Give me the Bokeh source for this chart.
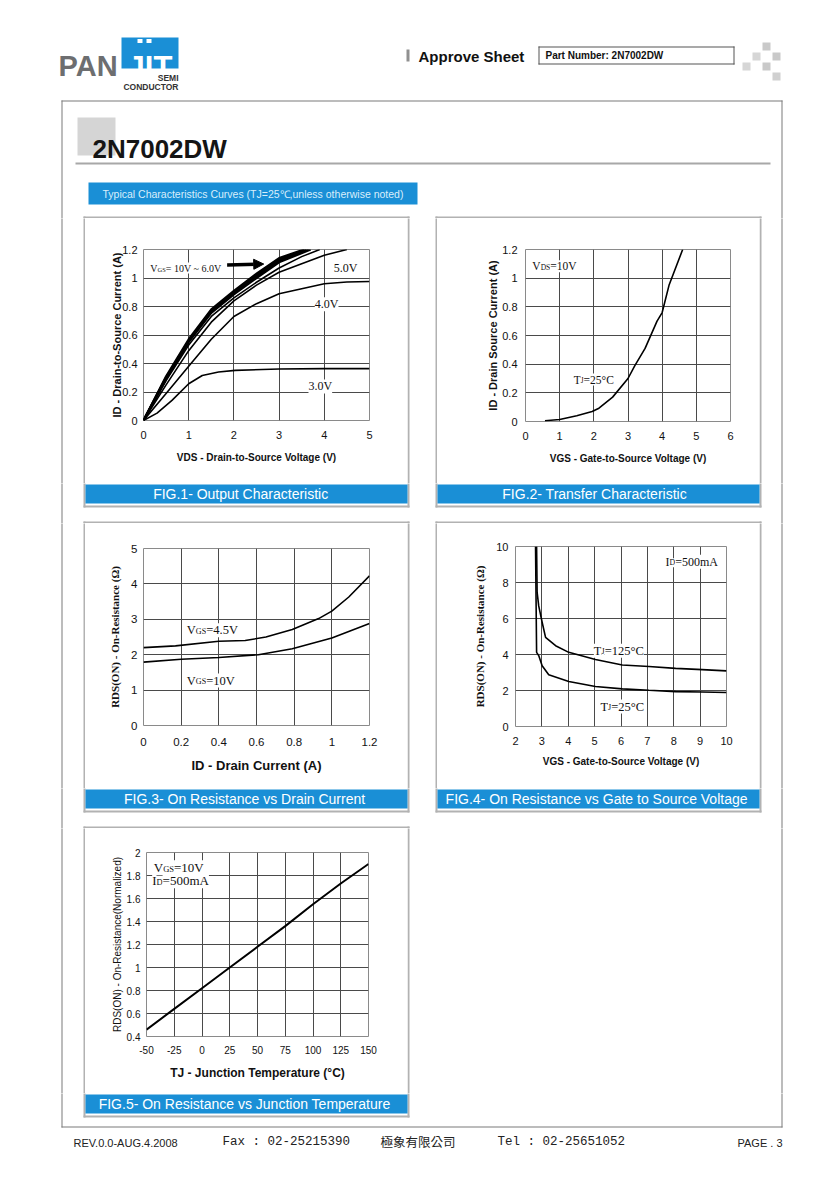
from bokeh.plotting import figure
from bokeh.models import Range1d, FixedTicker, CustomJSTickFormatter, Label, Arrow, NormalHead, Plot
from bokeh.layouts import row, column
from bokeh.core.properties import value
from bokeh.embed import file_html
from bokeh.resources import INLINE

# ---------------- data ----------------
# FIG.1 Output characteristic : VDS (V) -> ID (A)
F1_VGS10_VDS = [0, 0.5, 1.0, 1.5, 2.0, 2.5, 3.0, 3.55]
F1_VGS10_ID = [0, 0.31, 0.57, 0.78, 0.91, 1.03, 1.14, 1.2]
F1_VGS9_VDS = [0, 0.5, 1.0, 1.5, 2.0, 2.5, 3.0, 3.6]
F1_VGS9_ID = [0, 0.30, 0.56, 0.77, 0.90, 1.02, 1.13, 1.2]
F1_VGS8_VDS = [0, 0.5, 1.0, 1.5, 2.0, 2.5, 3.0, 3.65]
F1_VGS8_ID = [0, 0.30, 0.555, 0.765, 0.895, 1.01, 1.12, 1.2]
F1_VGS7_VDS = [0, 0.5, 1.0, 1.5, 2.0, 2.5, 3.0, 3.7]
F1_VGS7_ID = [0, 0.29, 0.55, 0.755, 0.885, 1.0, 1.11, 1.2]
F1_VGS6_VDS = [0, 0.5, 1.0, 1.5, 2.0, 2.5, 3.0, 3.5, 3.9]
F1_VGS6_ID = [0, 0.28, 0.53, 0.73, 0.86, 0.97, 1.07, 1.15, 1.2]
F1_VGS5_VDS = [0, 0.5, 1.0, 1.5, 2.0, 2.5, 3.0, 3.5, 4.0, 4.5]
F1_VGS5_ID = [0, 0.25, 0.49, 0.69, 0.84, 0.95, 1.04, 1.10, 1.16, 1.2]
F1_VGS4_VDS = [0, 0.5, 1.0, 1.5, 2.0, 2.5, 3.0, 3.5, 4.0, 4.5, 5.0]
F1_VGS4_ID = [0, 0.19, 0.38, 0.57, 0.73, 0.82, 0.89, 0.925, 0.96, 0.972, 0.975]
F1_VGS3_VDS = [0, 0.3, 0.63, 1.0, 1.3, 1.66, 2.03, 3.0, 4.0, 5.0]
F1_VGS3_ID = [0, 0.052, 0.141, 0.258, 0.316, 0.34, 0.352, 0.361, 0.364, 0.364]
F1_X_TICKS = [0, 1, 2, 3, 4, 5]
F1_Y_TICKS = [0, 0.2, 0.4, 0.6, 0.8, 1, 1.2]

# FIG.2 Transfer characteristic : VGS (V) -> ID (A)
F2_VGS = [0.57, 1.0, 1.5, 1.95, 2.15, 2.55, 3.0, 3.2, 3.5, 3.85, 4.0, 4.2, 4.6]
F2_ID = [0.005, 0.014, 0.04, 0.07, 0.093, 0.17, 0.30, 0.39, 0.51, 0.70, 0.76, 0.95, 1.2]
F2_X_TICKS = [0, 1, 2, 3, 4, 5, 6]
F2_Y_TICKS = [0, 0.2, 0.4, 0.6, 0.8, 1, 1.2]

# FIG.3 On resistance vs drain current : ID (A) -> RDS(on) (ohm)
F3_ID_45 = [0, 0.17, 0.4, 0.54, 0.65, 0.79, 0.93, 1.0, 1.09, 1.2]
F3_R_45 = [2.2, 2.25, 2.38, 2.4, 2.5, 2.71, 3.02, 3.23, 3.63, 4.23]
F3_ID_10 = [0, 0.2, 0.4, 0.61, 0.79, 1.0, 1.2]
F3_R_10 = [1.79, 1.87, 1.92, 2.0, 2.17, 2.47, 2.88]
F3_X_TICKS = [0, 0.2, 0.4, 0.6, 0.8, 1, 1.2]
F3_Y_TICKS = [0, 1, 2, 3, 4, 5]

# FIG.4 On resistance vs gate-source voltage : VGS (V) -> RDS(on) (ohm)
F4_VGS_125 = [2.8, 2.82, 2.88, 3.01, 3.14, 3.52, 4.02, 5.03, 6.05, 7.06, 8.07, 9.08, 10]
F4_R_125 = [10, 7.45, 6.7, 5.79, 4.95, 4.49, 4.12, 3.72, 3.42, 3.33, 3.23, 3.16, 3.09]
F4_VGS_25 = [2.76, 2.78, 2.8, 2.88, 3.01, 3.26, 4.02, 5.03, 6.05, 7.06, 8.07, 9.08, 10]
F4_R_25 = [10, 7.0, 4.12, 3.94, 3.38, 2.87, 2.5, 2.22, 2.09, 2.01, 1.94, 1.92, 1.89]
F4_X_TICKS = [2, 3, 4, 5, 6, 7, 8, 9, 10]
F4_Y_TICKS = [0, 2, 4, 6, 8, 10]

# FIG.5 On resistance vs junction temperature : TJ (C) -> normalized RDS(on)
F5_TJ = [-50, -25, 0, 25, 50, 75, 100, 125, 150]
F5_R = [0.46, 0.64, 0.82, 1.0, 1.18, 1.36, 1.55, 1.73, 1.9]
F5_X_TICKS = [-50, -25, 0, 25, 50, 75, 100, 125, 150]
F5_Y_TICKS = [0.4, 0.6, 0.8, 1, 1.2, 1.4, 1.6, 1.8, 2]

# ---------------- styling ----------------
SANS = "Liberation Sans"
SERIF = "Liberation Serif"
MONO = "Liberation Mono"
CJK = "Noto Sans CJK TC"
BLUE = "#1a8fd6"
PANEL_GRAY = "#b2b2b2"
BOX_GRAY = "#7a7a7a"
GRID = "#4a4a4a"
HAS_FRAME_ALIGN = "frame_align" in Plot.properties()

# page decoration (page pixel coordinates): x0, x1, y0, y1, colour
RECTS = []
TEXTS = []


def rect(x0, x1, y0, y1, c):
    RECTS.append((x0, x1, y0, y1, c))


def text(x, y, s, font, size, color="#111111", align="left", baseline="middle", style="normal"):
    TEXTS.append((x, y, s, font, size, color, align, baseline, style))


# header
text(58, 65, "PAN", SANS, "29px", "#6d6e70", "left", "alphabetic", "bold")
rect(121, 178, 37, 68, BLUE)
text(149.5, 66.5, "JIT", SANS, "31px", "white", "center", "alphabetic", "bold")
rect(137, 142, 38.5, 42.5, "white")
rect(146, 151, 38.5, 42.5, "white")
text(178, 77, "SEMI", SANS, "8.5px", "#333333", "right", "alphabetic", "bold")
text(178, 86.5, "CONDUCTOR", SANS, "8.5px", "#333333", "right", "alphabetic", "bold")
rect(406, 409, 49, 61, "#909090")
text(418, 55.5, "Approve Sheet", SANS, "15px", "#111111", "left", "middle", "bold")
rect(538, 734, 46, 47, "#555555")
rect(538, 734, 63, 64, "#555555")
rect(538, 539, 46, 64, "#555555")
rect(733, 734, 46, 64, "#555555")
text(545, 55, "Part Number:  2N7002DW", SANS, "10px", "#111111", "left", "middle", "bold")
for (sx, sy, sc) in [(762, 42, "#c9c9c9"), (752, 52, "#d6d6d6"), (772, 52, "#c9c9c9"),
                     (742, 62, "#d6d6d6"), (762, 62, "#c9c9c9"), (772, 72, "#d0d0d0")]:
    rect(sx, sx + 8, sy, sy + 8, sc)

# content box
rect(61, 62, 100, 1127, BOX_GRAY)
rect(781, 782, 100, 1127, BOX_GRAY)
rect(61, 782, 100, 101, BOX_GRAY)
rect(61, 782, 1126, 1127, BOX_GRAY)

# title block
rect(77, 115, 117, 155, "#d5d5d5")
text(92, 148, "2N7002DW", SANS, "26px", "#151515", "left", "alphabetic", "bold")
rect(75, 770, 162, 164, "#a8a8a8")
rect(88, 417, 182, 204, BLUE)
text(102, 193.5, "Typical Characteristics Curves (TJ=25\u2103,unless otherwise noted)",
     SANS, "10.5px", "#d9eefb")

# panels
PANEL_COLS = [(85, 407), (437, 759)]
ROWS = [(218, 505), (523, 810), (828, 1115)]
CHART_H = 265
CAPTIONS = [
    "FIG.1-  Output   Characteristic",
    "FIG.2-  Transfer  Characteristic",
    "FIG.3-  On Resistance vs Drain Current",
    "FIG.4-  On Resistance vs Gate to Source Voltage",
    "FIG.5-  On Resistance vs Junction Temperature",
]
k = 0
for ri, (y0, y1) in enumerate(ROWS):
    for ci, (x0, x1) in enumerate(PANEL_COLS):
        if ri == 2 and ci == 1:
            continue
        rect(x0 - 2, x0, y0 - 2, y1 + 2, PANEL_GRAY)
        rect(x1, x1 + 2, y0 - 2, y1 + 2, PANEL_GRAY)
        rect(x0 - 2, x1 + 2, y0 - 2, y0, PANEL_GRAY)
        rect(x0 - 2, x1 + 2, y1, y1 + 2, PANEL_GRAY)
        rect(x0, x1, y0 + 266, y0 + 285, BLUE)
        text((x0 + x1) / 2, y0 + 275.5, CAPTIONS[k], SANS, "14px", "white", "center", "middle")
        k += 1

# footer
text(73, 1142, "REV.0.0-AUG.4.2008", SANS, "11px", "#222222")
text(222, 1141, "Fax : 02-25215390", MONO, "12.5px", "#222222")
text(380, 1141, "極象有限公司", CJK, "12.5px", "#222222")
text(497, 1141, "Tel : 02-25651052", MONO, "12.5px", "#222222")
text(782, 1142, "PAGE . 3", SANS, "11px", "#222222", "right")


def no_align(p):
    if HAS_FRAME_ALIGN:
        p.frame_align = False
    return p


def deco(x0, x1, y0, y1):
    p = figure(width=x1 - x0, height=y1 - y0, title=None,
               x_range=Range1d(x0, x1), y_range=Range1d(y1, y0),
               x_axis_type=None, y_axis_type=None, output_backend="svg",
               toolbar_location=None, min_border=0,
               background_fill_color="white", border_fill_color="white")
    p.outline_line_color = None
    rs = [r for r in RECTS if r[0] < x1 and r[1] > x0 and r[2] < y1 and r[3] > y0]
    if rs:
        p.quad(left=[r[0] for r in rs], right=[r[1] for r in rs],
               top=[r[2] for r in rs], bottom=[r[3] for r in rs],
               fill_color=[r[4] for r in rs], line_color=None)
    for (tx, ty, s, font, size, color, align, baseline, style) in TEXTS:
        if x0 <= tx <= x1 and y0 <= ty <= y1:
            p.text(x=[tx], y=[ty], text=[s], text_font=value(font), text_font_size=value(size),
                   text_color=color, text_align=value(align), text_baseline=value(baseline),
                   text_font_style=value(style))
    return no_align(p)


TIMES_W = {"V": 722, "G": 722, "S": 556, "D": 722, "T": 611, "J": 389, "I": 333, "=": 564,
           ".": 250, "~": 541, " ": 250, "\u00b0": 400, "C": 667, "m": 778, "A": 722}


def tw(s, size):
    return sum(TIMES_W.get(c, 500) for c in s) * size / 1000.0


def rich(p, x, y, parts, size):
    off = 0.0
    for s, sub in parts:
        fs = size * 0.65 if sub else size
        p.add_layout(Label(x=x, y=y, x_offset=off, y_offset=-1 if sub else 0, text=s,
                           text_font=SERIF, text_font_size=f"{fs:.1f}px", text_color="#111111",
                           text_align="left", text_baseline="alphabetic",
                           background_fill_color="white"))
        off += tw(s, fs)


def chart(xr, yr, borders, xt, yt, xlabel, ylabel, xlab, ylab, tick_px, x_so, y_so):
    bl, br, bt, bb = borders
    p = figure(width=322, height=CHART_H, title=None, x_range=Range1d(*xr), y_range=Range1d(*yr),
               output_backend="svg", toolbar_location=None,
               min_border_left=bl, min_border_right=br, min_border_top=bt, min_border_bottom=bb,
               background_fill_color="white", border_fill_color="white")
    p.outline_line_color = "#8a8a8a"
    p.outline_line_width = 1
    fmt = "return String(Math.round(tick*1000)/1000);"
    for ax, ticks, so in ((p.xaxis, xt, x_so), (p.yaxis, yt, y_so)):
        ax.ticker = FixedTicker(ticks=ticks)
        ax.formatter = CustomJSTickFormatter(code=fmt)
        ax.axis_line_color = None
        ax.major_tick_line_color = None
        ax.minor_tick_line_color = None
        ax.major_tick_out = 0
        ax.major_tick_in = 0
        ax.minor_tick_out = 0
        ax.major_label_standoff = so
        ax.major_label_text_font = SANS
        ax.major_label_text_font_size = tick_px
        ax.major_label_text_color = "#111111"
    p.xaxis.axis_label = xlabel
    p.yaxis.axis_label = ylabel
    for ax, (font, size, style, so) in ((p.xaxis, xlab), (p.yaxis, ylab)):
        ax.axis_label_text_font = font
        ax.axis_label_text_font_size = size
        ax.axis_label_text_font_style = style
        ax.axis_label_text_color = "#111111"
        ax.axis_label_standoff = so
    p.xgrid.ticker = FixedTicker(ticks=xt[:-1])
    p.ygrid.ticker = FixedTicker(ticks=yt[:-1])
    p.grid.grid_line_color = GRID
    p.grid.grid_line_width = 1
    return no_align(p)


# ---------------- FIG.1 ----------------
f1 = chart((0, 5), (0, 1.2), (58, 38, 31, 63), F1_X_TICKS, F1_Y_TICKS,
           "VDS - Drain-to-Source Voltage (V)", "ID - Drain-to-Source Current (A)",
           (SANS, "10px", "bold", 10), (SANS, "11px", "bold", -4), "11px", 10, 6)
for xs, ys in ((F1_VGS10_VDS, F1_VGS10_ID), (F1_VGS9_VDS, F1_VGS9_ID), (F1_VGS8_VDS, F1_VGS8_ID),
               (F1_VGS7_VDS, F1_VGS7_ID)):
    f1.line(xs, ys, line_color="black", line_width=2.2)
for xs, ys in ((F1_VGS6_VDS, F1_VGS6_ID), (F1_VGS5_VDS, F1_VGS5_ID), (F1_VGS4_VDS, F1_VGS4_ID),
               (F1_VGS3_VDS, F1_VGS3_ID)):
    f1.line(xs, ys, line_color="black", line_width=1.6)
rich(f1, 0.15, 1.07, [("V", 0), ("GS", 1), ("= 10V ~ 6.0V", 0)], 10)
rich(f1, 4.21, 1.07, [("5.0V", 0)], 12)
rich(f1, 3.79, 0.816, [("4.0V", 0)], 12)
rich(f1, 3.65, 0.239, [("3.0V", 0)], 12)
f1.add_layout(Arrow(end=NormalHead(size=10, fill_color="black", line_color="black"),
                    x_start=1.85, y_start=1.092, x_end=2.66, y_end=1.098,
                    line_color="black", line_width=3.5))

# ---------------- FIG.2 ----------------
f2 = chart((0, 6), (0, 1.2), (88, 29, 31, 62), F2_X_TICKS, F2_Y_TICKS,
           "VGS - Gate-to-Source Voltage (V)", "ID - Drain Source Current (A)",
           (SANS, "10px", "bold", 10), (SANS, "11px", "bold", 0), "11px", 10, 8)
f2.line(F2_VGS, F2_ID, line_color="black", line_width=1.6)
rich(f2, 0.2, 1.083, [("V", 0), ("DS", 1), ("=10V", 0)], 11.5)
rich(f2, 1.41, 0.293, [("T", 0), ("J", 1), ("=25\u00b0C", 0)], 11.5)

# ---------------- FIG.3 ----------------
f3 = chart((0, 1.2), (0, 5), (58, 38, 25, 63), F3_X_TICKS, F3_Y_TICKS,
           "ID - Drain Current (A)", "RDS(ON) - On-Resistance (\u03a9)",
           (SANS, "13px", "bold", 9), (SERIF, "11px", "bold", 7), "11.5px", 12, 6)
f3.line(F3_ID_45, F3_R_45, line_color="black", line_width=1.6)
f3.line(F3_ID_10, F3_R_10, line_color="black", line_width=1.6)
rich(f3, 0.23, 2.69, [("V", 0), ("GS", 1), ("=4.5V", 0)], 12.5)
rich(f3, 0.23, 1.27, [("V", 0), ("GS", 1), ("=10V", 0)], 12.5)

# ---------------- FIG.4 ----------------
f4 = chart((2, 10), (0, 10), (78, 33, 23, 62), F4_X_TICKS, F4_Y_TICKS,
           "VGS - Gate-to-Source Voltage (V)", "RDS(ON) - On-Resistance (\u03a9)",
           (SANS, "10px", "bold", 8), (SERIF, "11px", "bold", 7), "11px", 10, 7)
f4.line(F4_VGS_125, F4_R_125, line_color="black", line_width=1.6)
f4.line(F4_VGS_25, F4_R_25, line_color="black", line_width=1.6)
rich(f4, 7.69, 9.15, [("I", 0), ("D", 1), ("=500mA", 0)], 12)
rich(f4, 4.97, 4.21, [("T", 0), ("J", 1), ("=125\u00b0C", 0)], 12.5)
rich(f4, 5.22, 1.11, [("T", 0), ("J", 1), ("=25\u00b0C", 0)], 12.5)

# ---------------- FIG.5 ----------------
f5 = chart((-50, 150), (0.4, 2), (61, 39, 24, 57), F5_X_TICKS, F5_Y_TICKS,
           "TJ - Junction Temperature (\u00b0C)", "RDS(ON) - On-Resistance(Normalized)",
           (SANS, "12px", "bold", 9), (SANS, "10px", "normal", 1), "10px", 9, 6)
f5.line(F5_TJ, F5_R, line_color="black", line_width=2)
rich(f5, -43.4, 1.867, [("V", 0), ("GS", 1), ("=10V", 0)], 13)
rich(f5, -44.9, 1.755, [("I", 0), ("D", 1), ("=500mA", 0)], 13)

# ---------------- page layout (page pixel grid, origin at the top-left) ----------------
charts = [[f1, f2], [f3, f4], [f5]]
items = [deco(0, 832, 0, ROWS[0][0])]
for ri, (y0, y1) in enumerate(ROWS):
    cy = y0 + CHART_H
    if ri < 2:
        items.append(row(deco(0, 85, y0, cy), charts[ri][0], deco(407, 437, y0, cy),
                         charts[ri][1], deco(759, 832, y0, cy)))
        items.append(deco(0, 832, cy, ROWS[ri + 1][0]))
    else:
        items.append(row(deco(0, 85, y0, cy), charts[ri][0], deco(407, 832, y0, cy)))
        items.append(deco(0, 832, cy, 1181))
page = column(*items)

open("out.html", "w").write(file_html(page, INLINE))
